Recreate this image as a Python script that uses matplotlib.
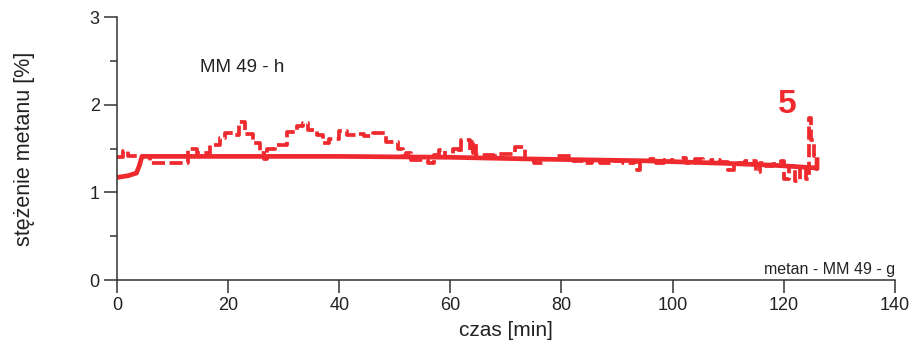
import matplotlib
matplotlib.use("Agg")
import matplotlib.pyplot as plt
from matplotlib.ticker import MultipleLocator

plt.rcParams['font.family'] = ['Liberation Sans', 'DejaVu Sans']

# thick solid series (trend)
t_solid = [0, 2, 3.5, 4.0, 4.5, 20, 40, 60, 75, 95, 110, 118, 125.5, 126.0, 126.0]
c_solid = [1.17, 1.19, 1.22, 1.30, 1.41, 1.41, 1.41, 1.40, 1.38, 1.36, 1.33, 1.31, 1.28, 1.27, 1.40]

# dashed series (raw readings)
t_dash = [0, 1, 2, 5, 6, 12.8, 14.4, 16.7, 18.5, 19.5, 21, 22, 23, 24.5, 25.8,
          26.5, 27, 28.5, 30.6, 32.4, 33.4, 34.4, 36, 37, 38.2, 40, 41.4, 43,
          44.5, 46, 48.5, 50.5, 51.5, 52, 53, 56, 57, 58, 59, 60.5, 61.5, 62,
          63.5, 64, 64.7, 68, 71.6, 73.4, 75, 77, 78.6, 82, 84, 85.5, 87, 89,
          91, 93, 93.6, 94.2, 96, 97, 98.5, 100, 101.5, 102.5, 104, 105.5, 107,
          108.5, 110, 111, 113, 115, 115.7, 116.5, 118, 119.5, 120, 121, 122,
          123, 124, 124.6, 125, 125.5, 126]
c_dash = [1.40, 1.47, 1.42, 1.42, 1.33, 1.50, 1.45, 1.54, 1.62, 1.68, 1.65, 1.80,
          1.67, 1.56, 1.45, 1.38, 1.50, 1.54, 1.69, 1.76, 1.79, 1.71, 1.65, 1.56,
          1.61, 1.70, 1.65, 1.67, 1.64, 1.68, 1.58, 1.50, 1.42, 1.45, 1.37, 1.33,
          1.43, 1.48, 1.40, 1.50, 1.45, 1.60, 1.45, 1.57, 1.43, 1.44, 1.52, 1.38,
          1.33, 1.38, 1.42, 1.36, 1.33, 1.37, 1.34, 1.36, 1.33, 1.36, 1.25, 1.36,
          1.38, 1.34, 1.37, 1.35, 1.39, 1.34, 1.38, 1.33, 1.37, 1.35, 1.25, 1.34,
          1.36, 1.23, 1.33, 1.30, 1.32, 1.36, 1.15, 1.30, 1.13, 1.28, 1.15, 1.85,
          1.60, 1.42, 1.35]

red = '#EE2A2F'
dark = '#333333'

fig = plt.figure(figsize=(9.14, 3.47), dpi=100)
ax = fig.add_axes([0.128, 0.193, 0.851, 0.758])

ax.plot(t_solid, c_solid, color=red, linewidth=3.4, solid_capstyle='butt')
ax.plot(t_dash, c_dash, color=red, linewidth=2.7, drawstyle='steps-post',
        linestyle=(0, (3.5, 1.2)))

ax.set_xlim(0, 140)
ax.set_ylim(0, 3)
ax.xaxis.set_major_locator(MultipleLocator(20))
ax.yaxis.set_major_locator(MultipleLocator(1))
ax.yaxis.set_minor_locator(MultipleLocator(0.5))

for s in ['top', 'right']:
    ax.spines[s].set_visible(False)
for s in ['left', 'bottom']:
    ax.spines[s].set_color(dark)
    ax.spines[s].set_linewidth(1.1)

ax.tick_params(axis='both', which='major', length=9.5, width=1.1, color=dark,
               labelsize=13, labelcolor='#222222', pad=3)
ax.tick_params(axis='y', which='minor', length=5, width=1.1, color=dark)

ax.set_xlabel('czas [min]', fontsize=15, color='#222222', labelpad=5)
ax.set_ylabel('stężenie metanu [%]', fontsize=15.5, color='#222222', labelpad=39)

ax.text(14.9, 2.42, 'MM 49 - h', fontsize=13.5, color='#222222', va='center')
ax.text(140, 0.04, 'metan - MM 49 - g', fontsize=11.5, color='#222222',
        ha='right', va='bottom')
ax.text(120.6, 2.0, '5', fontsize=24, fontweight='bold', color=red,
        ha='center', va='center')

fig.savefig('out.png', dpi=100)
